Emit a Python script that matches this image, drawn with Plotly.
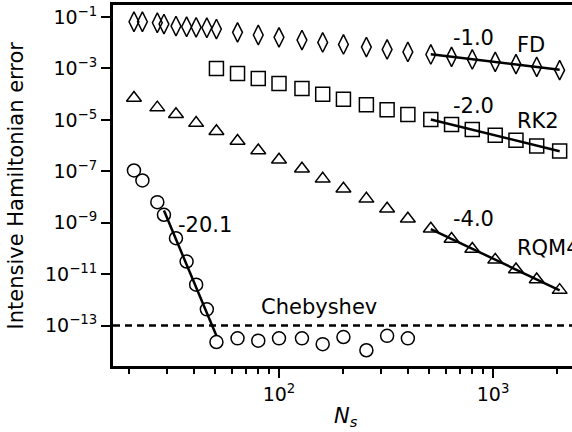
import numpy as np
import plotly.graph_objects as go

# ---------------- data ----------------
N_fd = [21, 23, 27, 29, 33, 37, 41, 46, 51, 64, 80, 100, 128, 160, 200, 256,
        320, 400, 512, 640, 800, 1024, 1280, 1600, 2048]
err_fd = [6.56e-2, 6.56e-2, 6.0e-2, 5.33e-2, 4.46e-2, 4.19e-2, 3.98e-2, 3.83e-2,
          3.40e-2, 2.54e-2, 2.0e-2, 1.62e-2, 1.27e-2, 1.03e-2, 8.6e-3, 6.8e-3,
          5.5e-3, 4.4e-3, 3.5e-3, 2.83e-3, 2.24e-3, 1.81e-3, 1.47e-3, 1.15e-3, 8.6e-4]

N_rk2 = [51, 64, 80, 100, 128, 160, 200, 256, 320, 400, 512, 640, 800, 1024,
         1280, 1600, 2048]
err_rk2 = [1.0e-3, 6.4e-4, 4.1e-4, 2.6e-4, 1.66e-4, 1.0e-4, 6.4e-5, 3.9e-5,
           2.5e-5, 1.61e-5, 1.03e-5, 6.6e-6, 4.2e-6, 2.5e-6, 1.6e-6, 9.6e-7, 6.1e-7]

N_rqm4 = [21, 27, 33, 41, 51, 64, 80, 100, 128, 160, 200, 256, 320, 400, 512,
          640, 800, 1024, 1280, 1600, 2048]
err_rqm4 = [7.1e-5, 3.0e-5, 1.66e-5, 7.5e-6, 3.6e-6, 1.5e-6, 6.5e-7, 2.83e-7,
            1.26e-7, 5.1e-8, 2.1e-8, 8.5e-9, 3.5e-9, 1.42e-9, 5.8e-10, 2.35e-10,
            9.6e-11, 3.6e-11, 1.51e-11, 6.2e-12, 2.4e-12]

N_cheb = [21, 23, 27, 29, 33, 37, 41, 46, 51, 64, 80, 100, 128, 160, 200, 256,
          320, 400]
err_cheb = [1.08e-7, 4.4e-8, 6.3e-9, 2.04e-9, 2.5e-10, 3.1e-11, 3.9e-12, 4.3e-13,
            2.3e-14, 3.2e-14, 2.6e-14, 3.2e-14, 3.2e-14, 1.9e-14, 3.6e-14,
            1.1e-14, 4.0e-14, 3.2e-14]

cheb_floor = 1e-13

slope_labels = ["-1.0", "-2.0", "-4.0", "-20.1"]
method_labels = ["FD", "RK2", "RQM4", "Chebyshev"]

y_tickvals = [1e-1, 1e-3, 1e-5, 1e-7, 1e-9, 1e-11, 1e-13]
y_ticktext = ["10<sup>\u22121</sup>", "10<sup>\u22123</sup>", "10<sup>\u22125</sup>",
              "10<sup>\u22127</sup>", "10<sup>\u22129</sup>", "10<sup>\u221211</sup>",
              "10<sup>\u221213</sup>"]
x_tickvals = [100, 1000]
x_ticktext = ["10<sup>2</sup>", "10<sup>3</sup>"]
x_minor = [20, 30, 40, 50, 60, 70, 80, 90, 200, 300, 400, 500, 600, 700, 800, 900, 2000]

# ---------------- figure ----------------
FONT = "DejaVu Sans"
fig = go.Figure()

def fit_line(N, err, i0, i1):
    lx = np.log10(np.array(N[i0:i1], float))
    ly = np.log10(np.array(err[i0:i1], float))
    p = np.polyfit(lx, ly, 1)
    xs = np.array([lx[0], lx[-1]])
    return 10 ** xs, 10 ** np.polyval(p, xs)

series = [
    (N_fd, err_fd, "diamond-tall-open", 14),
    (N_rk2, err_rk2, "square-open", 14),
    (N_rqm4, err_rqm4, "triangle-up-open", 13),
    (N_cheb, err_cheb, "circle-open", 13),
]
for N, e, sym, sz in series:
    fig.add_trace(go.Scatter(x=N, y=e, mode="markers", cliponaxis=False,
                             marker=dict(symbol=sym, size=sz, color="black",
                                         line=dict(color="black", width=1.5)),
                             showlegend=False))

fits = [fit_line(N_fd, err_fd, -7, None), fit_line(N_rk2, err_rk2, -7, None),
        fit_line(N_rqm4, err_rqm4, -7, None), fit_line(N_cheb, err_cheb, 3, 9)]
for fx, fy in fits:
    fig.add_trace(go.Scatter(x=fx, y=fy, mode="lines", line=dict(color="black", width=2.5),
                             showlegend=False, cliponaxis=False))

fig.add_shape(type="line", xref="paper", x0=0, x1=1, yref="y", y0=cheb_floor, y1=cheb_floor,
              line=dict(color="black", width=2.5, dash="7px,5px"))

afont = dict(family=FONT, size=21, color="black")
# labels (log-coordinates for annotations on log axes)
ann = [
    (slope_labels[0], 2.807, -1.82), (method_labels[0], 3.107, -2.09),
    (slope_labels[1], 2.807, -4.45), (method_labels[1], 3.107, -5.05),
    (slope_labels[2], 2.807, -8.84), (method_labels[2], 3.107, -10.0),
    (slope_labels[3], 1.522, -9.07), (method_labels[3], 1.911, -12.29),
]
for t, ax_, ay_ in ann:
    fig.add_annotation(text=t, x=ax_, y=ay_, xref="x", yref="y", showarrow=False,
                       xanchor="left", yanchor="middle", font=afont, borderpad=0)

fig.add_annotation(text="Intensive Hamiltonian error", xref="paper", yref="paper",
                   x=-0.2135, y=0.5, textangle=-90, showarrow=False,
                   xanchor="center", yanchor="middle", font=afont)
fig.add_annotation(text="<i>N</i><sub><i>s</i></sub>", xref="paper", yref="paper",
                   x=0.5076, y=-0.100, showarrow=False, xanchor="center", yanchor="top",
                   font=afont)

fig.update_layout(
    width=572, height=432,
    margin=dict(l=113, r=0, t=5, b=66),
    paper_bgcolor="white", plot_bgcolor="white",
    font=dict(family=FONT, size=19, color="black"),
    xaxis=dict(type="log", range=[1.2243, 3.369], showgrid=False, zeroline=False,
               showline=True, linecolor="black", linewidth=3, mirror=True,
               ticks="outside", ticklen=9, tickwidth=2, tickcolor="black",
               tickmode="array", tickvals=x_tickvals, ticktext=x_ticktext,
               tickfont=dict(family=FONT, size=19),
               minor=dict(tickmode="array", tickvals=x_minor, ticks="outside",
                          ticklen=5, tickwidth=1.5, tickcolor="black", showgrid=False)),
    yaxis=dict(type="log", range=[-14.571, -0.532], showgrid=False, zeroline=False,
               showline=True, linecolor="black", linewidth=3, mirror=False,
               ticks="outside", ticklen=9, tickwidth=2, tickcolor="black",
               tickmode="array", tickvals=y_tickvals, ticktext=y_ticktext,
               tickfont=dict(family=FONT, size=19)),
)

fig.write_html("out.html")
